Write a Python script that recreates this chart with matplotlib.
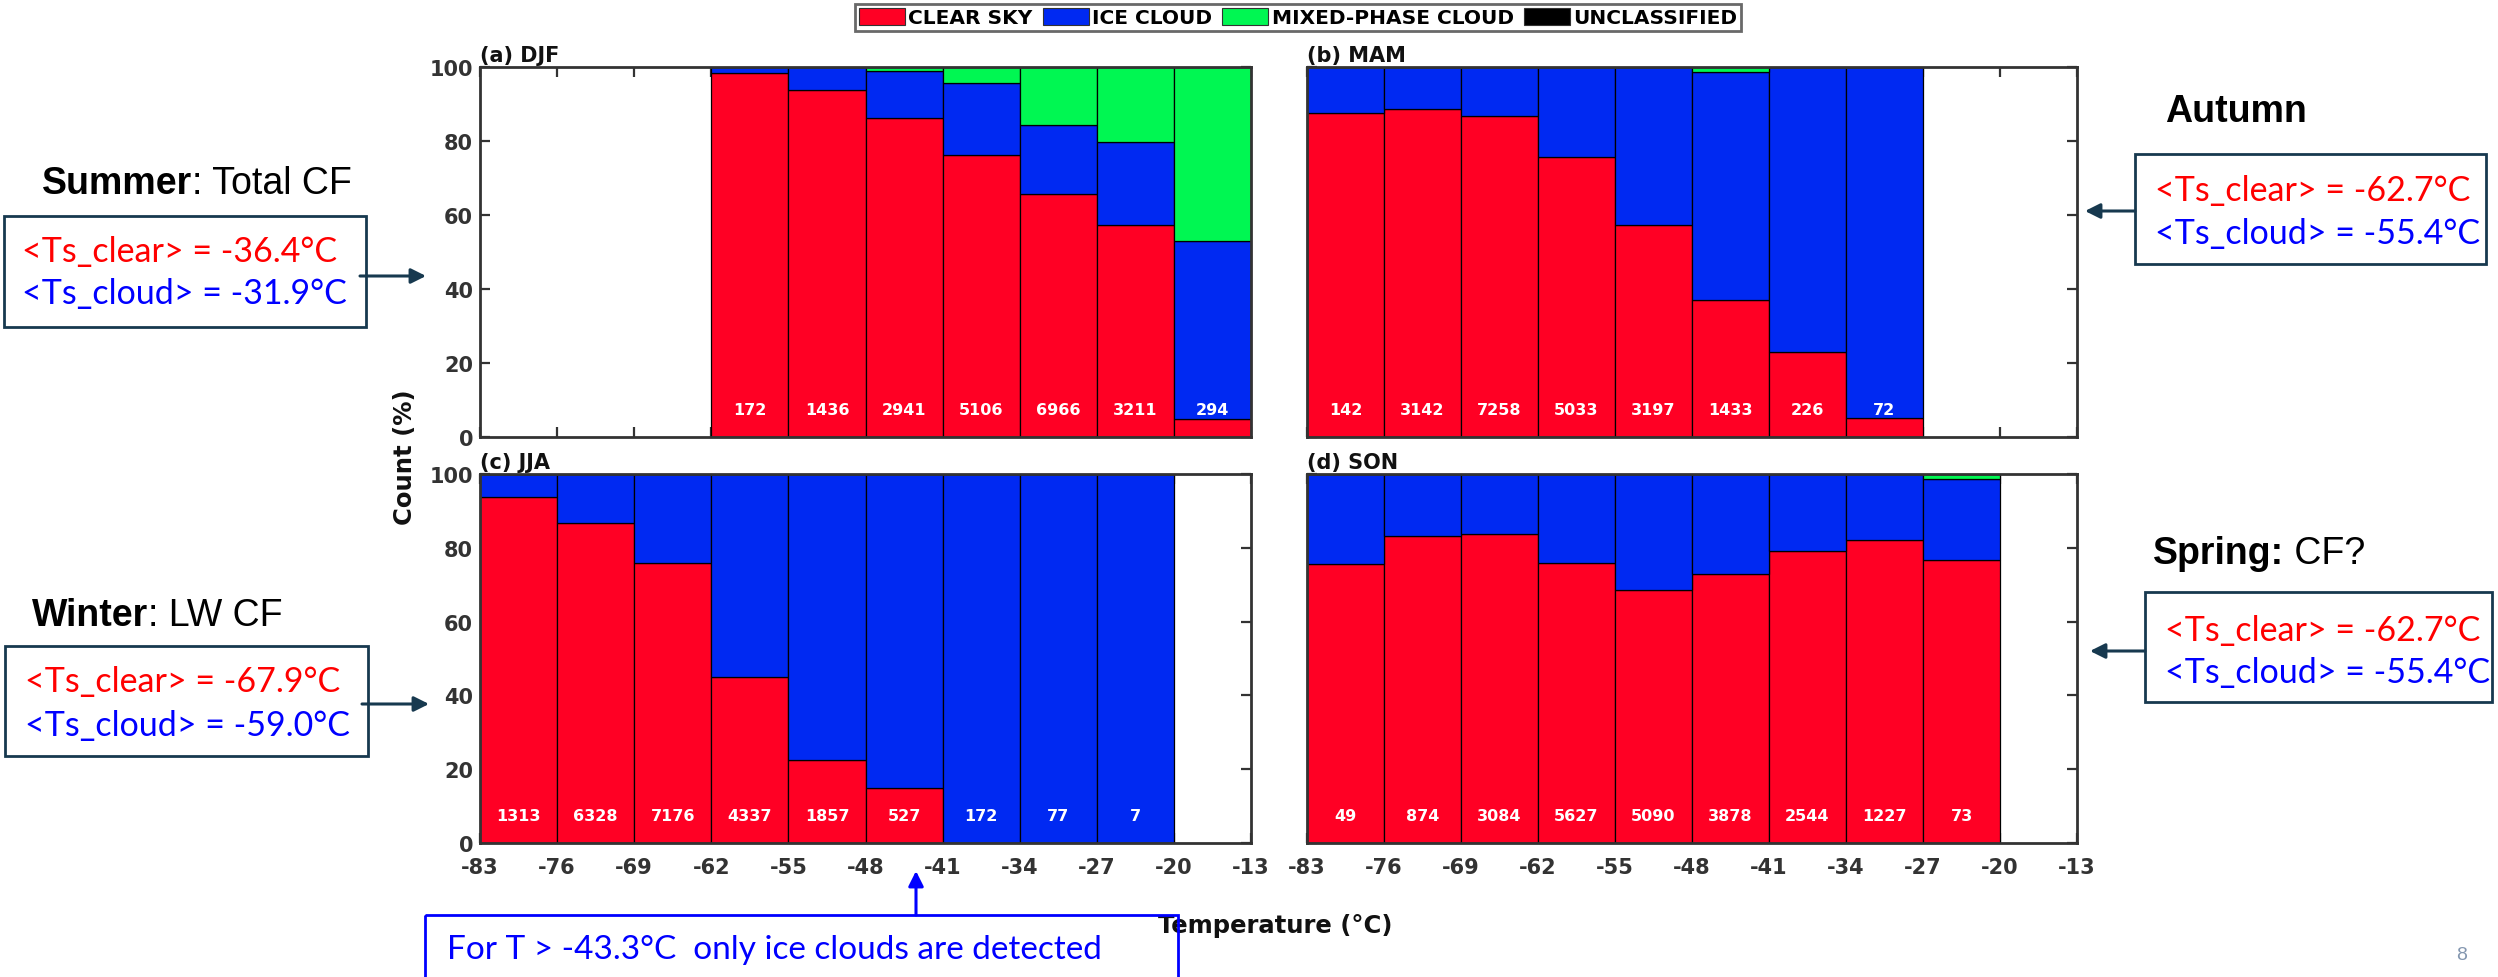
import matplotlib
matplotlib.use("Agg")
import matplotlib.pyplot as plt
from matplotlib.patches import Rectangle, Patch
import numpy as np

# ---------------- data ----------------
temp_ticks = [-83, -76, -69, -62, -55, -48, -41, -34, -27, -20, -13]
bin_width = 7
categories = ["CLEAR SKY", "ICE CLOUD", "MIXED-PHASE CLOUD", "UNCLASSIFIED"]

djf_bins = [-62, -55, -48, -41, -34, -27, -20]
djf_clear = [98.4, 93.7, 86.1, 76.3, 65.7, 57.4, 4.8]
djf_ice = [1.6, 6.3, 12.7, 19.4, 18.5, 22.2, 48.1]
djf_mixed = [0.0, 0.0, 1.2, 4.3, 15.8, 20.4, 47.1]
djf_uncl = [0, 0, 0, 0, 0, 0, 0]
djf_counts = [172, 1436, 2941, 5106, 6966, 3211, 294]

mam_bins = [-83, -76, -69, -62, -55, -48, -41, -34]
mam_clear = [87.6, 88.7, 86.8, 75.6, 57.4, 37.0, 23.0, 5.2]
mam_ice = [12.4, 11.3, 13.2, 24.4, 42.6, 61.7, 77.0, 94.8]
mam_mixed = [0, 0, 0, 0, 0, 1.3, 0, 0]
mam_uncl = [0, 0, 0, 0, 0, 0, 0, 0]
mam_counts = [142, 3142, 7258, 5033, 3197, 1433, 226, 72]

jja_bins = [-83, -76, -69, -62, -55, -48, -41, -34, -27]
jja_clear = [93.8, 86.6, 75.9, 45.0, 22.6, 14.9, 0, 0, 0]
jja_ice = [6.2, 13.4, 24.1, 55.0, 77.4, 85.1, 100, 100, 100]
jja_mixed = [0, 0, 0, 0, 0, 0, 0, 0, 0]
jja_uncl = [0, 0, 0, 0, 0, 0, 0, 0, 0]
jja_counts = [1313, 6328, 7176, 4337, 1857, 527, 172, 77, 7]

son_bins = [-83, -76, -69, -62, -55, -48, -41, -34, -27]
son_clear = [75.5, 83.3, 83.7, 76.0, 68.5, 73.0, 79.1, 82.1, 76.7]
son_ice = [24.5, 16.7, 16.3, 24.0, 31.5, 27.0, 20.9, 17.9, 22.0]
son_mixed = [0, 0, 0, 0, 0, 0, 0, 0, 1.3]
son_uncl = [0, 0, 0, 0, 0, 0, 0, 0, 0]
son_counts = [49, 874, 3084, 5627, 5090, 3878, 2544, 1227, 73]

panel_titles = ["(a) DJF", "(b) MAM", "(c) JJA", "(d) SON"]

# ---------------- style ----------------
W, H = 2498, 978
DPI = 100
C_RED = "#FF0024"
C_BLUE = "#0029F2"
C_GREEN = "#00F752"
C_BLACK = "#000000"
colors = [C_RED, C_BLUE, C_GREEN, C_BLACK]
AX_GRAY = "#333333"
NAVY = "#17394F"

plt.rcParams["font.family"] = ["DejaVu Sans"]
plt.rcParams["axes.unicode_minus"] = False

fig = plt.figure(figsize=(W / DPI, H / DPI), dpi=DPI)


def px_axes(x0, y0, x1, y1):
    return fig.add_axes([x0 / W, 1 - y1 / H, (x1 - x0) / W, (y1 - y0) / H])


panels = [
    (px_axes(480, 68, 1251, 438), djf_bins, [djf_clear, djf_ice, djf_mixed, djf_uncl], djf_counts),
    (px_axes(1307, 68, 2077, 438), mam_bins, [mam_clear, mam_ice, mam_mixed, mam_uncl], mam_counts),
    (px_axes(480, 475, 1251, 844), jja_bins, [jja_clear, jja_ice, jja_mixed, jja_uncl], jja_counts),
    (px_axes(1307, 475, 2077, 844), son_bins, [son_clear, son_ice, son_mixed, son_uncl], son_counts),
]

for i, (ax, bins, series, counts) in enumerate(panels):
    bottom = np.zeros(len(bins))
    for vals, col in zip(series, colors):
        vals = np.asarray(vals, dtype=float)
        ax.bar(bins, vals, width=bin_width, bottom=bottom, align="edge",
               color=col, edgecolor="black", linewidth=0.9, zorder=2)
        bottom = bottom + vals
    for b, n in zip(bins, counts):
        ax.text(b + bin_width / 2, 7.5, str(n), ha="center", va="center",
                color="white", fontsize=11.5, fontweight="bold", zorder=3)
    ax.set_xlim(temp_ticks[0], temp_ticks[-1])
    ax.set_ylim(0, 100)
    ax.set_xticks(temp_ticks)
    ax.set_yticks([0, 20, 40, 60, 80, 100])
    ax.tick_params(direction="in", length=7, width=1.6, top=True, right=True,
                   colors=AX_GRAY, labelsize=15)
    ax.tick_params(axis="y", pad=5)
    ax.tick_params(axis="x", pad=10)
    for lab in ax.get_xticklabels() + ax.get_yticklabels():
        lab.set_fontweight("bold")
    if i < 2:
        ax.tick_params(labelbottom=False)
    if i % 2 == 1:
        ax.tick_params(labelleft=False)
    for sp in ax.spines.values():
        sp.set_color(AX_GRAY)
        sp.set_linewidth(2.0)
        sp.set_zorder(4)
    ax.set_title(panel_titles[i], loc="left", fontsize=15, fontweight="bold",
                 pad=4, color="#111111")

fig.text(405 / W, 1 - 457 / H, "Count (%)", rotation=90, ha="center", va="center",
         fontsize=17.5, fontweight="bold", color="#111111")
fig.text(1275 / W, 1 - 926 / H, "Temperature (°C)", ha="center", va="center",
         fontsize=17.5, fontweight="bold", color="#111111")

handles = [Patch(facecolor=c, edgecolor="#333333", linewidth=0.8) for c in colors]
leg = fig.legend(handles, categories, loc="upper center",
                 bbox_to_anchor=(1298 / W, 1 - 5 / H), ncol=4, frameon=True,
                 fancybox=False, edgecolor="#444444",
                 prop={"weight": "bold", "size": 14.5},
                 handlelength=2.3, handleheight=0.9, handletextpad=0.15,
                 columnspacing=0.5, borderpad=0.2, borderaxespad=0)
leg.get_frame().set_linewidth(2.0)

# ---------------- annotation overlay ----------------
ov = fig.add_axes([0, 0, 1, 1], zorder=10)
ov.set_xlim(0, W)
ov.set_ylim(H, 0)
ov.axis("off")
ov.patch.set_alpha(0)

HEAD_FONT = "Liberation Sans"
BOX_FONT = "Lato"
renderer = fig.canvas.get_renderer()


def heading(x, y, bold_part, normal_part, size=27):
    t1 = ov.text(x, y, bold_part, fontsize=size, family=HEAD_FONT, fontweight="bold",
                 ha="left", va="baseline", color="black")
    if normal_part:
        bb = t1.get_window_extent(renderer)
        ov.text(bb.x1, y, normal_part, fontsize=size, family=HEAD_FONT,
                ha="left", va="baseline", color="black")


def box(x0, y0, x1, y1, ec=NAVY, lw=2.0):
    ov.add_patch(Rectangle((x0, y0), x1 - x0, y1 - y0, fill=False, ec=ec, lw=lw,
                           clip_on=False))


def arrow(x0, y0, x1, y1, col=NAVY):
    ov.annotate("", xy=(x1, y1), xytext=(x0, y0),
                arrowprops=dict(arrowstyle="-|>,head_length=0.9,head_width=0.45",
                                color=col, lw=2.2, shrinkA=0, shrinkB=0))


def two_lines(x, y1, y2, clear_txt, cloud_txt, size=24.5):
    ov.text(x, y1, clear_txt, color="#FF0000", fontsize=size, family=BOX_FONT,
            ha="left", va="center")
    ov.text(x, y2, cloud_txt, color="#0000FF", fontsize=size, family=BOX_FONT,
            ha="left", va="center")


# Summer
heading(42, 194, "Summer", ": Total CF")
box(4, 217, 366, 328)
two_lines(22, 252, 294, "<Ts_clear> = -36.4°C", "<Ts_cloud> = -31.9°C")
arrow(360, 277, 426, 277)

# Winter
heading(32, 626, "Winter", ": LW CF")
box(5, 647, 368, 757)
two_lines(25, 682, 726, "<Ts_clear> = -67.9°C", "<Ts_cloud> = -59.0°C")
arrow(362, 705, 429, 705)

# Autumn
heading(2165, 122, "Autumn", "")
box(2135, 155, 2486, 265)
two_lines(2155, 191, 234, "<Ts_clear> = -62.7°C", "<Ts_cloud> = -55.4°C")
arrow(2135, 212, 2085, 212)

# Spring
heading(2153, 564, "Spring:", " CF?")
box(2145, 593, 2492, 703)
two_lines(2165, 631, 673, "<Ts_clear> = -62.7°C", "<Ts_cloud> = -55.4°C")
arrow(2145, 652, 2090, 652)

# bottom note
box(425, 916, 1178, 990, ec="#0000FF", lw=2.0)
ov.text(447, 950, "For T > -43.3°C  only ice clouds are detected", color="#0000FF",
        fontsize=24, family=BOX_FONT, ha="left", va="center")
arrow(916, 916, 916, 872, col="#0000FF")

# page number
ov.text(2462, 955, "8", color="#8497B0", fontsize=14, family="Liberation Sans",
        ha="center", va="center")

fig.savefig("out.png", dpi=DPI)
